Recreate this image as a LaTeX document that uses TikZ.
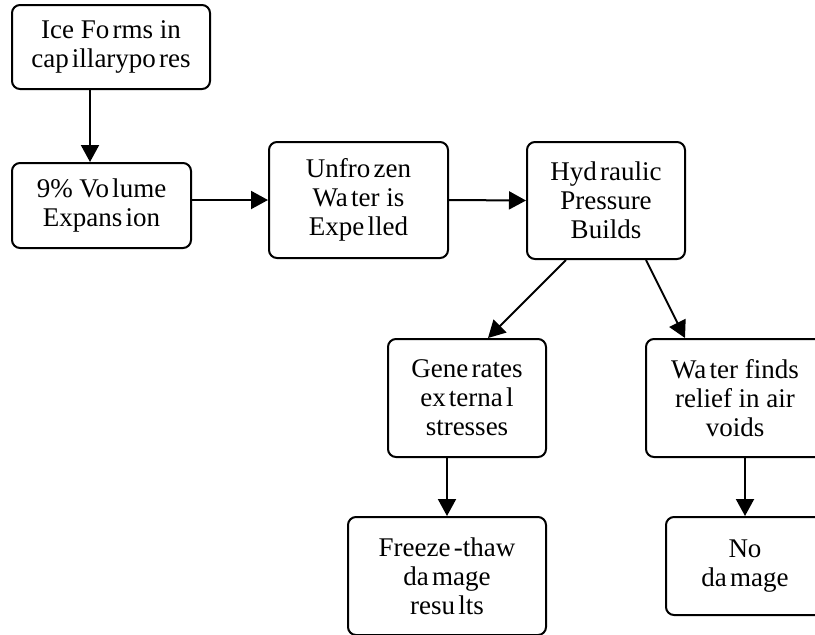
\documentclass[tikz,border=0pt]{standalone}
\usepackage{fontspec}
\setmainfont{Liberation Serif}
\newfontfamily\boxfont{Liberation Serif}
\usetikzlibrary{arrows.meta}

% Small gap inside a word, as the scan prints it.
\newcommand{\gp}{\kern0.12em}

\begin{document}
\begin{tikzpicture}[%
        x = 0.5pt, y = -0.5pt,
        box/.style = {%
            draw,
            line width = 1pt,
            rounded corners = 4pt,
            align = center,
            inner sep = 0pt,
            font = \boxfont\fontsize{13.5}{14.5}\selectfont
        },
        flow/.style = {%
            line width = 1pt,
            -{Triangle[length = 8.5pt, width = 9pt]}
        }
    ]

        % The frame of the page.
        \useasboundingbox (0, 0) rectangle (815, 634);
        \clip (0, 0) rectangle (815, 634);

        % The boxes of the chain.
        \node[box, minimum width = 99pt, minimum height = 42pt] (ice) at (111, 47) {Ice Fo\gp rms in\\cap\gp illarypo\gp res};
        \node[box, minimum width = 89.5pt, minimum height = 42.5pt] (volume) at (101.5, 205.5) {9\% Vo\gp lume\\Expans\gp ion};
        \node[box, minimum width = 89.5pt, minimum height = 58pt] (unfrozen) at (358.5, 200) {Unfro\gp zen\\Wa\gp ter is\\Expe\gp lled};
        \node[box, minimum width = 79pt, minimum height = 58.5pt] (hydraulic) at (606, 200.5) {Hyd\gp raulic\\Pressure\\Builds};

        % The two outcomes.
        \node[box, minimum width = 79pt, minimum height = 59pt] (stresses) at (467, 398) {Gene\gp rates\\ex\gp terna\gp l\\stresses};
        \node[box, minimum width = 89pt, minimum height = 59pt] (relief) at (735, 398) {Wa\gp ter finds\\relief in air\\voids};
        \node[box, minimum width = 99pt, minimum height = 59pt] (damage) at (447, 576) {Freeze\gp -thaw\\da\gp mage\\resu\gp lts};
        \node[box, minimum width = 79pt, minimum height = 49pt] (nodamage) at (745, 566) {No\\da\gp mage};

        % Foot of the first arrow.
        \coordinate (icefoot) at ([xshift = -10.5pt]ice.south);

        % Arrows between the boxes.
        \draw[flow] (icefoot) -- (icefoot |- volume.north);
        \draw[flow] (volume.east |- unfrozen.west) -- (unfrozen.west);
        \draw[flow] (unfrozen.east) -- (hydraulic.west);
        \draw[flow] ([xshift = -20pt]hydraulic.south) -- ([xshift = 10.5pt]stresses.north);
        \draw[flow] ([xshift = 20pt]hydraulic.south) -- ([xshift = -25pt]relief.north);
        \draw[flow] (stresses.south -| damage.north) -- (damage.north);
        \draw[flow] (relief.south -| nodamage.north) -- (nodamage.north);
    \end{tikzpicture}
\end{document}
